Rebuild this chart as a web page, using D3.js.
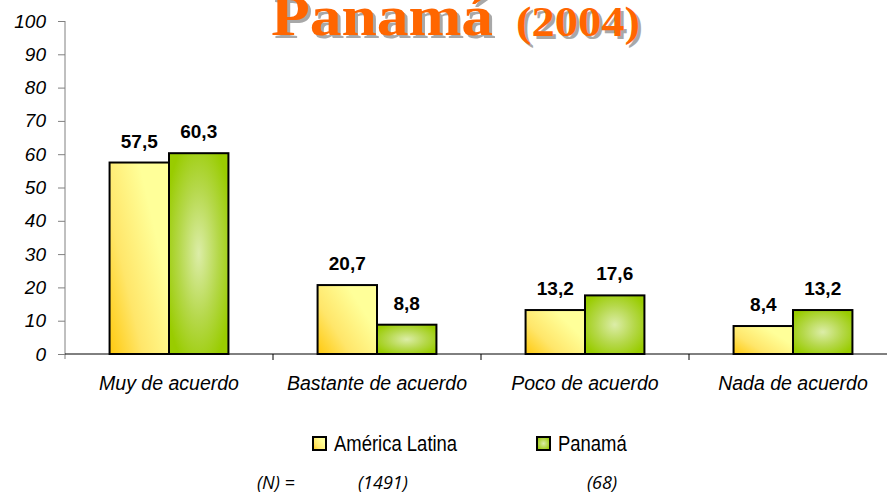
<!DOCTYPE html>
<html>
<head>
<meta charset="utf-8">
<script src="https://cdn.jsdelivr.net/npm/d3@7"></script>
<style>
  body { margin: 0; background: #fff; }
  svg { display: block; }
  .y.axis text { font-family: "Liberation Sans", Arial, sans-serif; font-style: italic; font-size: 19px; fill: #000; }
  .x-label { font-family: "Liberation Sans", Arial, sans-serif; font-style: italic; font-size: 19.5px; }
  .val { font-family: "Liberation Sans", Arial, sans-serif; font-weight: bold; font-size: 19px; }
  .legend { font-family: "Liberation Sans", Arial, sans-serif; font-size: 22px; }
  .nrow { font-family: "Open Sans", "Noto Sans", sans-serif; font-style: italic; font-size: 18px; }
</style>
</head>
<body>
<svg id="chart" width="887" height="494"></svg>
<script>
let width = 887;
let height = 494;

let categories = ["Muy de acuerdo", "Bastante de acuerdo", "Poco de acuerdo", "Nada de acuerdo"];
let seriesNames = ["América Latina", "Panamá"];
let latinAmerica = [57.5, 20.7, 13.2, 8.4];
let panama = [60.3, 8.8, 17.6, 13.2];
let yTicks = [0, 10, 20, 30, 40, 50, 60, 70, 80, 90, 100];
let nLabels = ["(N) =", "(1491)", "(68)"];

let margin = { top: 21, left: 65 };
let plotBottom = 354;

let svg = d3.select("#chart");
let defs = svg.append("defs");

// yellow bar: diagonal gradient
let gy = defs.append("linearGradient").attr("id", "gYellow")
  .attr("x1", "0").attr("y1", "1").attr("x2", "0.8").attr("y2", "0.4");
gy.append("stop").attr("offset", "0").attr("stop-color", "#ffc90e");
gy.append("stop").attr("offset", "0.45").attr("stop-color", "#ffe66a");
gy.append("stop").attr("offset", "1").attr("stop-color", "#ffff99");

// green bar: light center, darker edges
let gg = defs.append("radialGradient").attr("id", "gGreen")
  .attr("cx", "0.5").attr("cy", "0.5").attr("r", "0.6");
gg.append("stop").attr("offset", "0").attr("stop-color", "#dcedA8");
gg.append("stop").attr("offset", "0.55").attr("stop-color", "#b5d84a");
gg.append("stop").attr("offset", "1").attr("stop-color", "#99cc00");

let fills = { "América Latina": "url(#gYellow)", "Panamá": "url(#gGreen)" };

let data = categories.map((c, i) => ({
  category: c,
  values: [
    { key: seriesNames[0], value: latinAmerica[i] },
    { key: seriesNames[1], value: panama[i] }
  ]
}));

let x = d3.scaleBand()
  .domain(categories)
  .range([margin.left, 897])
  .paddingInner(0)
  .paddingOuter(0);

let xInner = d3.scaleBand()
  .domain(seriesNames)
  .range([0, x.bandwidth()])
  .paddingInner(0)
  .paddingOuter(0.75);

let y = d3.scaleLinear()
  .domain([0, 100])
  .range([plotBottom, margin.top]);

// title (wide serif, drawn with a grey drop shadow)
let title = svg.append("g");
[["#a8a8a8", 3], ["#ff6600", 0]].forEach(([col, off]) => {
  let font = "'Liberation Serif', 'Times New Roman', serif";
  title.append("text")
    .attr("x", 271 + off).attr("y", 35 + off)
    .attr("textLength", 222).attr("lengthAdjust", "spacingAndGlyphs")
    .style("font-family", font).style("font-weight", "bold")
    .style("font-size", "56px").style("fill", col)
    .text("Panamá");
  title.append("text")
    .attr("x", 516 + off).attr("y", 36 + off)
    .attr("textLength", 124).attr("lengthAdjust", "spacingAndGlyphs")
    .style("font-family", font).style("font-weight", "bold")
    .style("font-size", "42px").style("fill", col)
    .text("(2004)");
});

// y axis
let yAxis = svg.append("g")
  .attr("class", "y axis")
  .attr("transform", `translate(${margin.left},0)`)
  .call(d3.axisLeft(y).tickValues(yTicks).tickSize(7).tickPadding(12));
yAxis.select(".domain").attr("stroke", "#808080").attr("d", `M0,${y(100)}V${plotBottom + 5}`);
yAxis.selectAll(".tick line").attr("stroke", "#808080");

// x axis baseline and separators
svg.append("line")
  .attr("x1", margin.left).attr("x2", width)
  .attr("y1", plotBottom).attr("y2", plotBottom)
  .attr("stroke", "#000").attr("stroke-width", 1);
svg.selectAll(".sep")
  .data(categories.slice(1))
  .join("line")
  .attr("class", "sep")
  .attr("x1", d => x(d)).attr("x2", d => x(d))
  .attr("y1", plotBottom).attr("y2", plotBottom + 6)
  .attr("stroke", "#000");

// bars
let groups = svg.append("g")
  .selectAll("g")
  .data(data)
  .join("g")
  .attr("transform", d => `translate(${x(d.category)},0)`);

groups.selectAll("rect")
  .data(d => d.values)
  .join("rect")
  .attr("x", d => xInner(d.key))
  .attr("width", xInner.bandwidth())
  .attr("y", d => y(d.value))
  .attr("height", d => y(0) - y(d.value))
  .attr("fill", d => fills[d.key])
  .attr("stroke", "#000")
  .attr("stroke-width", 2);

groups.selectAll(".val")
  .data(d => d.values)
  .join("text")
  .attr("class", "val")
  .attr("x", d => xInner(d.key) + xInner.bandwidth() / 2)
  .attr("y", d => y(d.value) - 15)
  .attr("text-anchor", "middle")
  .text(d => d3.format(".1f")(d.value).replace(".", ","));

// category labels
svg.selectAll(".x-label")
  .data(categories)
  .join("text")
  .attr("class", "x-label")
  .attr("x", d => x(d) + x.bandwidth() / 2)
  .attr("y", 390)
  .attr("text-anchor", "middle")
  .text(d => d);

// legend
let legendX = [313, 537];
let legend = svg.append("g")
  .selectAll("g")
  .data(seriesNames)
  .join("g")
  .attr("transform", (d, i) => `translate(${legendX[i]},437)`);
legend.append("rect")
  .attr("width", 13).attr("height", 13)
  .attr("fill", d => fills[d])
  .attr("stroke", "#000").attr("stroke-width", 2);
legend.append("text")
  .attr("class", "legend")
  .attr("transform", "translate(21,14) scale(0.84,1)")
  .text(d => d);

// N row
let nX = [257, 358, 587];
svg.selectAll(".nrow")
  .data(nLabels)
  .join("text")
  .attr("class", "nrow")
  .attr("x", (d, i) => nX[i])
  .attr("y", 489)
  .text(d => d);
</script>
</body>
</html>
